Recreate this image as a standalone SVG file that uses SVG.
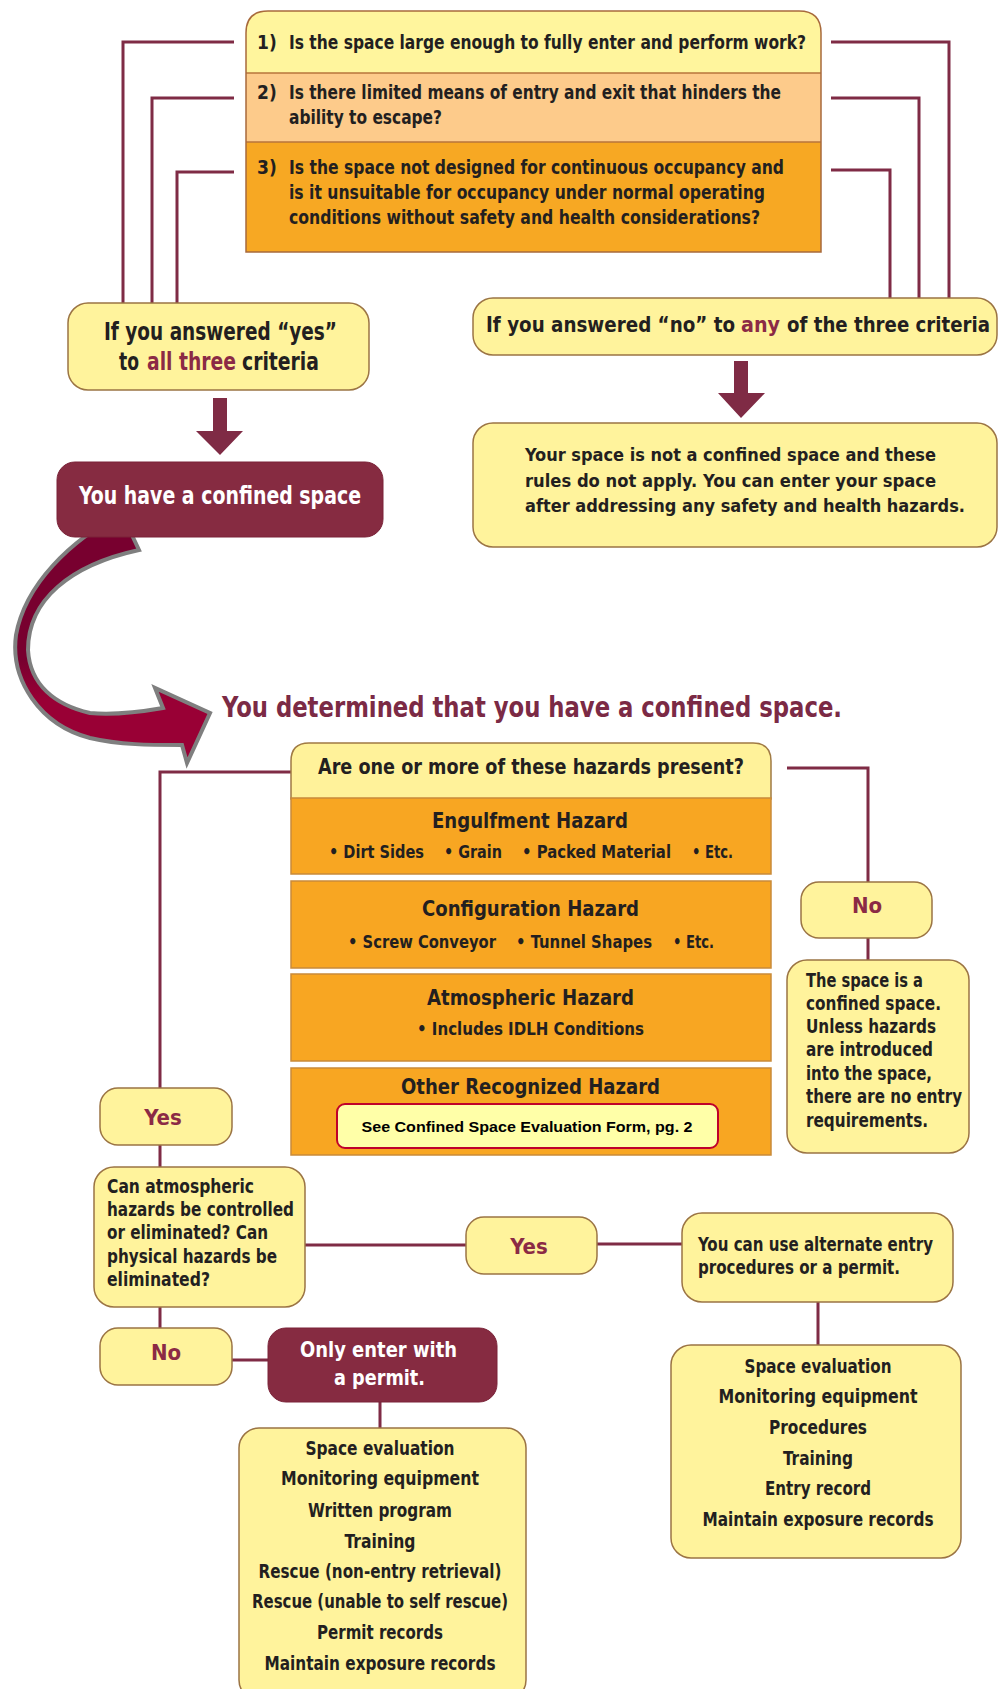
<svg xmlns="http://www.w3.org/2000/svg" width="999" height="1689" viewBox="0 0 999 1689">
<defs>
<style>
.t{font-family:"Liberation Sans Narrow","DejaVu Sans Condensed","Liberation Sans",sans-serif;font-weight:bold;fill:#231f20}
.s19{font-size:19px}.s17{font-size:17px}.s18{font-size:18px}.s20{font-size:20px}.s21{font-size:21px}.s22{font-size:22px}.s24{font-size:24px}
.w{fill:#ffffff}.m{fill:#8b2a45}
.yb{fill:#fff39c;stroke:#9b7444;stroke-width:1.5}
.ob{fill:#f8a622;stroke:#c98a3a;stroke-width:1.5}
.mb{fill:#862b41;stroke:#7a2338;stroke-width:1}
.ln{fill:none;stroke:#7f2b45;stroke-width:3}
.ar{fill:#7f2b45}
.c{text-anchor:middle}
</style>
<linearGradient id="ag" x1="0" y1="660" x2="0" y2="700" gradientUnits="userSpaceOnUse">
<stop offset="0" stop-color="#78002f"/>
<stop offset="1" stop-color="#990035"/>
</linearGradient>
</defs>
<rect width="999" height="1689" fill="#ffffff"/>

<g id="connectors">
<path class="ln" d="M234 42 H123 V304 M234 98 H152 V304 M234 172 H177 V304"/>
<path class="ln" d="M831 42 H949 V299 M831 98 H919 V299 M831 170 H890 V299"/>
<polygon class="ar" points="213,398 227,398 227,431 243,431 220,455 196,431 213,431"/>
<polygon class="ar" points="734,361 748,361 748,393 765,393 741,418 718,393 734,393"/>
<path class="ln" d="M291 772 H160 V1088"/>
<path class="ln" d="M787 768 H868 V882 M868 938 V960"/>
<path class="ln" d="M160 1145 V1167 M160 1307 V1328 M232 1360 H268 M380 1402 V1428"/>
<path class="ln" d="M305 1245 H466 M597 1244 H682 M818 1302 V1345"/>
<path d="M122 514 C70 540 25 585 16 635 C10 680 40 725 90 738 C120 745 150 745 182 745 L187 763 L210 713 L155 688 L163 708 C140 712 110 715 90 713 C55 705 30 685 28 650 C28 600 70 565 139 550 Z" fill="url(#ag)" stroke="#7f7f7f" stroke-width="4"/>
</g>

<g id="criteria">
<path d="M246 73 V33 Q246 11 268 11 H799 Q821 11 821 33 V73 Z" fill="#fff59d"/>
<rect x="246" y="73" width="575" height="69" fill="#fdcb8b"/>
<rect x="246" y="142" width="575" height="110" fill="#f7a823"/>
<path d="M246 73 H821 M246 142 H821" stroke="#b8763c" stroke-width="1.5"/>
<path d="M246 252 V33 Q246 11 268 11 H799 Q821 11 821 33 V252 Z" fill="none" stroke="#a86a3c" stroke-width="1.5"/>
<text class="t s19" x="257" y="49">1)</text>
<text class="t s19" x="289" y="49" textLength="517" lengthAdjust="spacingAndGlyphs">Is the space large enough to fully enter and perform work?</text>
<text class="t s19" x="257" y="99">2)</text>
<text class="t s19" x="289" y="99" textLength="492" lengthAdjust="spacingAndGlyphs">Is there limited means of entry and exit that hinders the</text>
<text class="t s19" x="289" y="124" textLength="153" lengthAdjust="spacingAndGlyphs">ability to escape?</text>
<text class="t s19" x="257" y="174">3)</text>
<text class="t s19" x="289" y="174" textLength="495" lengthAdjust="spacingAndGlyphs">Is the space not designed for continuous occupancy and</text>
<text class="t s19" x="289" y="199" textLength="476" lengthAdjust="spacingAndGlyphs">is it unsuitable for occupancy under normal operating</text>
<text class="t s19" x="289" y="224" textLength="471" lengthAdjust="spacingAndGlyphs">conditions without safety and health considerations?</text>
</g>

<g id="yes-all">
<rect class="yb" x="68" y="303" width="301" height="87" rx="20"/>
<text class="t s24" x="104" y="340" textLength="233" lengthAdjust="spacingAndGlyphs">If you answered “yes”</text>
<text class="t s24" x="119" y="370" textLength="20" lengthAdjust="spacingAndGlyphs">to</text>
<text class="t s24 m" x="147" y="370" textLength="89" lengthAdjust="spacingAndGlyphs">all three</text>
<text class="t s24" x="242" y="370" textLength="77" lengthAdjust="spacingAndGlyphs">criteria</text>
</g>

<g id="confined">
<rect class="mb" x="57" y="462" width="326" height="75" rx="18"/>
<text class="t s24 w" x="79" y="504" textLength="282" lengthAdjust="spacingAndGlyphs">You have a confined space</text>
</g>

<g id="no-any">
<rect class="yb" x="473" y="298" width="524" height="57" rx="20"/>
<text class="t s22" x="486" y="332" textLength="249" lengthAdjust="spacingAndGlyphs">If you answered “no” to</text>
<text class="t s22 m" x="741" y="332" textLength="39" lengthAdjust="spacingAndGlyphs">any</text>
<text class="t s22" x="787" y="332" textLength="203" lengthAdjust="spacingAndGlyphs">of the three criteria</text>
</g>

<g id="not-confined">
<rect class="yb" x="473" y="423" width="524" height="124" rx="20"/>
<text class="t s18" x="525" y="461" textLength="411" lengthAdjust="spacingAndGlyphs">Your space is not a confined space and these</text>
<text class="t s18" x="525" y="487" textLength="411" lengthAdjust="spacingAndGlyphs">rules do not apply.  You can enter your space</text>
<text class="t s18" x="525" y="512" textLength="440" lengthAdjust="spacingAndGlyphs">after addressing any safety and health hazards.</text>
</g>

<g id="title">
<text class="t" x="222" y="717" font-size="28" style="fill:#7b2a45" textLength="620" lengthAdjust="spacingAndGlyphs">You determined that you have a confined space.</text>
</g>

<g id="hazards">
<path d="M291 799 V761 Q291 743 309 743 H753 Q771 743 771 761 V799 Z" fill="#fff29a" stroke="#a07a44" stroke-width="1.5"/>
<text class="t s21" x="318" y="774" textLength="426" lengthAdjust="spacingAndGlyphs">Are one or more of these hazards present?</text>
<rect class="ob" x="291" y="798" width="480" height="76"/>
<text class="t s21" x="432" y="828" textLength="196" lengthAdjust="spacingAndGlyphs">Engulfment Hazard</text>
<text class="t s17" x="329" y="858" textLength="95" lengthAdjust="spacingAndGlyphs">• Dirt Sides</text>
<text class="t s17" x="444" y="858" textLength="58" lengthAdjust="spacingAndGlyphs">• Grain</text>
<text class="t s17" x="522" y="858" textLength="149" lengthAdjust="spacingAndGlyphs">• Packed Material</text>
<text class="t s17" x="692" y="858" textLength="41" lengthAdjust="spacingAndGlyphs">• Etc.</text>
<rect class="ob" x="291" y="881" width="480" height="87"/>
<text class="t s21" x="422" y="916" textLength="217" lengthAdjust="spacingAndGlyphs">Configuration Hazard</text>
<text class="t s17" x="348" y="948" textLength="148" lengthAdjust="spacingAndGlyphs">• Screw Conveyor</text>
<text class="t s17" x="516" y="948" textLength="136" lengthAdjust="spacingAndGlyphs">• Tunnel Shapes</text>
<text class="t s17" x="673" y="948" textLength="41" lengthAdjust="spacingAndGlyphs">• Etc.</text>
<rect class="ob" x="291" y="974" width="480" height="87"/>
<text class="t s21" x="427" y="1005" textLength="207" lengthAdjust="spacingAndGlyphs">Atmospheric Hazard</text>
<text class="t s17" x="417" y="1035" textLength="227" lengthAdjust="spacingAndGlyphs">• Includes IDLH Conditions</text>
<rect class="ob" x="291" y="1068" width="480" height="87"/>
<text class="t s21" x="401" y="1094" textLength="259" lengthAdjust="spacingAndGlyphs">Other Recognized Hazard</text>
<rect x="337" y="1104" width="381" height="44" rx="8" fill="#ffffa8" stroke="#c0002a" stroke-width="2"/>
<text x="527" y="1132" font-family="'Liberation Sans',Arial,sans-serif" font-weight="bold" font-size="15" fill="#000000" text-anchor="middle" textLength="331" lengthAdjust="spacingAndGlyphs">See Confined Space Evaluation Form, pg. 2</text>
</g>

<g id="no-hazard">
<rect class="yb" x="801" y="882" width="131" height="56" rx="18"/>
<text class="t s22 m c" x="867" y="913">No</text>
</g>

<g id="no-hazard-result">
<rect class="yb" x="787" y="960" width="182" height="193" rx="20"/>
<text class="t s19" x="806" y="987" textLength="117" lengthAdjust="spacingAndGlyphs">The space is a</text>
<text class="t s19" x="806" y="1010" textLength="135" lengthAdjust="spacingAndGlyphs">confined space.</text>
<text class="t s19" x="806" y="1033" textLength="130" lengthAdjust="spacingAndGlyphs">Unless hazards</text>
<text class="t s19" x="806" y="1056" textLength="127" lengthAdjust="spacingAndGlyphs">are introduced</text>
<text class="t s19" x="806" y="1080" textLength="126" lengthAdjust="spacingAndGlyphs">into the space,</text>
<text class="t s19" x="806" y="1103" textLength="156" lengthAdjust="spacingAndGlyphs">there are no entry</text>
<text class="t s19" x="806" y="1127" textLength="122" lengthAdjust="spacingAndGlyphs">requirements.</text>
</g>

<g id="yes-hazard">
<rect class="yb" x="100" y="1088" width="132" height="57" rx="18"/>
<text class="t s22 m c" x="163" y="1125">Yes</text>
</g>

<g id="control-question">
<rect class="yb" x="94" y="1167" width="211" height="140" rx="20"/>
<text class="t s19" x="107" y="1193" textLength="147" lengthAdjust="spacingAndGlyphs">Can atmospheric</text>
<text class="t s19" x="107" y="1216" textLength="187" lengthAdjust="spacingAndGlyphs">hazards be controlled</text>
<text class="t s19" x="107" y="1239" textLength="161" lengthAdjust="spacingAndGlyphs">or eliminated? Can</text>
<text class="t s19" x="107" y="1263" textLength="170" lengthAdjust="spacingAndGlyphs">physical hazards be</text>
<text class="t s19" x="107" y="1286" textLength="103" lengthAdjust="spacingAndGlyphs">eliminated?</text>
</g>

<g id="yes-control">
<rect class="yb" x="466" y="1217" width="131" height="57" rx="18"/>
<text class="t s22 m c" x="529" y="1254">Yes</text>
</g>

<g id="alternate">
<rect class="yb" x="682" y="1213" width="271" height="89" rx="20"/>
<text class="t s19" x="698" y="1251" textLength="235" lengthAdjust="spacingAndGlyphs">You can use alternate entry</text>
<text class="t s19" x="698" y="1274" textLength="202" lengthAdjust="spacingAndGlyphs">procedures or a permit.</text>
</g>

<g id="alternate-list">
<rect class="yb" x="671" y="1345" width="290" height="213" rx="20"/>
<text class="t s19 c" x="818" y="1373" textLength="147" lengthAdjust="spacingAndGlyphs">Space evaluation</text>
<text class="t s19 c" x="818" y="1403" textLength="199" lengthAdjust="spacingAndGlyphs">Monitoring equipment</text>
<text class="t s19 c" x="818" y="1434" textLength="98" lengthAdjust="spacingAndGlyphs">Procedures</text>
<text class="t s19 c" x="818" y="1465" textLength="70" lengthAdjust="spacingAndGlyphs">Training</text>
<text class="t s19 c" x="818" y="1495" textLength="106" lengthAdjust="spacingAndGlyphs">Entry record</text>
<text class="t s19 c" x="818" y="1526" textLength="231" lengthAdjust="spacingAndGlyphs">Maintain exposure records</text>
</g>

<g id="no-control">
<rect class="yb" x="100" y="1328" width="132" height="57" rx="18"/>
<text class="t s22 m c" x="166" y="1360">No</text>
</g>

<g id="permit">
<rect class="mb" x="268" y="1328" width="229" height="74" rx="18"/>
<text class="t s22 w" x="300" y="1357" textLength="157" lengthAdjust="spacingAndGlyphs">Only enter with</text>
<text class="t s22 w" x="334" y="1385" textLength="91" lengthAdjust="spacingAndGlyphs">a permit.</text>
</g>

<g id="permit-list">
<rect class="yb" x="239" y="1428" width="287" height="272" rx="20"/>
<text class="t s19 c" x="380" y="1455" textLength="149" lengthAdjust="spacingAndGlyphs">Space evaluation</text>
<text class="t s19 c" x="380" y="1485" textLength="198" lengthAdjust="spacingAndGlyphs">Monitoring equipment</text>
<text class="t s19 c" x="380" y="1517" textLength="144" lengthAdjust="spacingAndGlyphs">Written program</text>
<text class="t s19 c" x="380" y="1548" textLength="71" lengthAdjust="spacingAndGlyphs">Training</text>
<text class="t s19 c" x="380" y="1578" textLength="243" lengthAdjust="spacingAndGlyphs">Rescue (non-entry retrieval)</text>
<text class="t s19 c" x="380" y="1608" textLength="256" lengthAdjust="spacingAndGlyphs">Rescue (unable to self rescue)</text>
<text class="t s19 c" x="380" y="1639" textLength="126" lengthAdjust="spacingAndGlyphs">Permit records</text>
<text class="t s19 c" x="380" y="1670" textLength="231" lengthAdjust="spacingAndGlyphs">Maintain exposure records</text>
</g>
</svg>
